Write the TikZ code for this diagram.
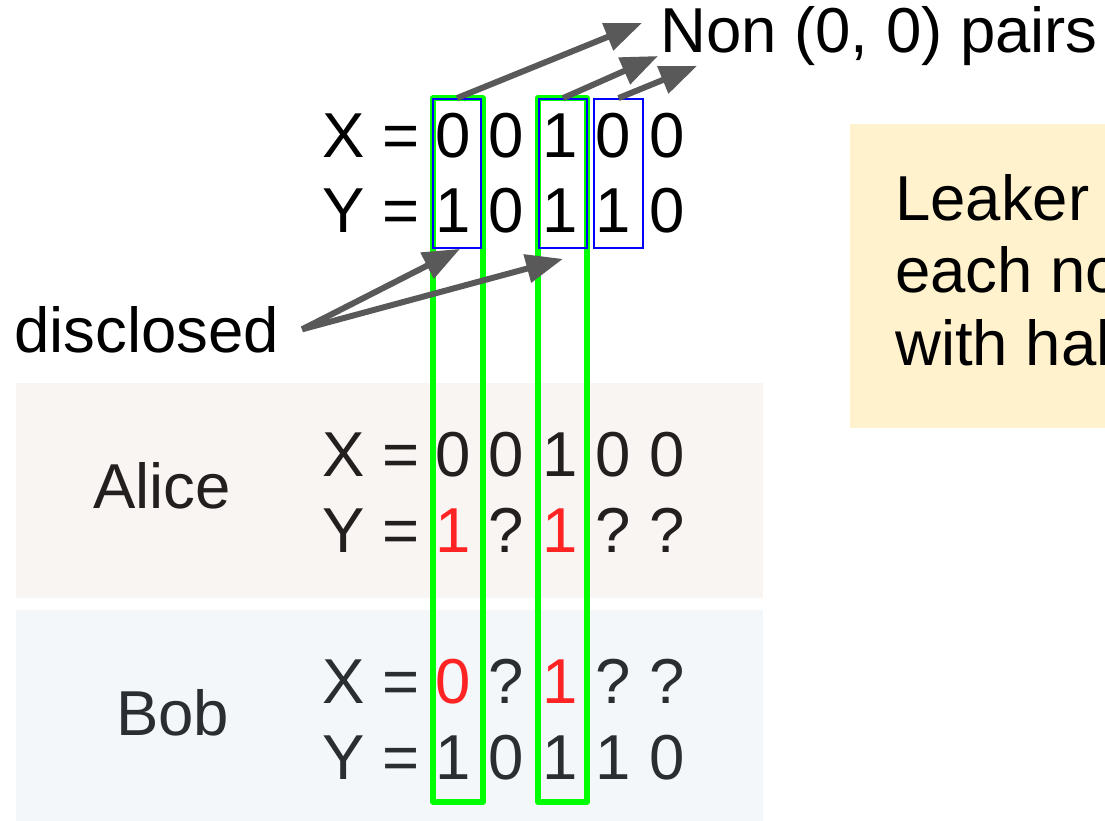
\documentclass[tikz,border=0pt]{standalone}
\usepackage{fontspec}
\setmainfont{Liberation Sans}
\usepackage{xcolor}
\usetikzlibrary{arrows.meta, positioning, calc}

\definecolor{arrowgray}{HTML}{595959}
\definecolor{alicebg}{HTML}{F9F5F2}
\definecolor{bobbg}{HTML}{F3F7FA}
\definecolor{notebg}{HTML}{FFF2CC}
\definecolor{pairgreen}{HTML}{00FF00}
\definecolor{aliceink}{HTML}{231F1F}
\definecolor{bobink}{HTML}{2A2E33}
\definecolor{hitred}{HTML}{FF2424}

\begin{document}
\begin{tikzpicture}[x=1pt, y=-1pt,
  txt/.style={font=\fontsize{63.5}{72}\selectfont, inner sep=0pt},
  bit/.style={txt, anchor=base},
  pairbox/.style={draw=blue, line width=1.8pt, minimum width=48.5pt,
                  minimum height=149pt, inner sep=0pt},
  colbox/.style={draw=pairgreen, line width=5.5pt, line join=round},
  pointer/.style={draw=arrowgray, line width=6pt,
                  -{Triangle[length=37pt, width=28pt]}}]
  % page is 1105 x 821, y grows downwards
  \useasboundingbox (0,0) rectangle (1105,821);
  \clip (0,0) rectangle (1105,821);

  % backgrounds
  \fill[alicebg] (16,383) rectangle (763,598);
  \fill[bobbg] (16,610) rectangle (763,821);
  \fill[notebg] (850,124) rectangle (1120,428);

  % columns that run through all three tables
  \draw[colbox] (433,98) rectangle (483,802);
  \draw[colbox] (538,98) rectangle (587,802);

  % non (0,0) pairs
  \node[pairbox] (p1) at (457,173.5) {};
  \node[pairbox] (p2) at (563,173.5) {};
  \node[pairbox] (p3) at (618.5,173.5) {};

  % full strings
  \node[txt, anchor=base west] (tX) at (322,158) {X =};
  \node[txt, anchor=base west] (tY) at (322,233) {Y =};
  \foreach \b [count=\i] in {0,0,1,0,0}
    \node[bit] (tx\i) at ({453+53.5*(\i-1)},158) {\b};
  \foreach \b [count=\i] in {1,0,1,1,0}
    \node[bit] (ty\i) at ({453+53.5*(\i-1)},233) {\b};

  % Alice's view
  \node[txt, text=aliceink, anchor=base west] (alice) at (93,508) {Alice};
  \node[txt, text=aliceink, anchor=base west] (aX) at (322,476) {X =};
  \node[txt, text=aliceink, anchor=base west] (aY) at (322,552) {Y =};
  \foreach \b [count=\i] in {0,0,1,0,0}
    \node[bit, text=aliceink] (ax\i) at ({453+53.5*(\i-1)},476) {\b};
  \foreach \b [count=\i] in {{\textcolor{hitred}{1}},?,{\textcolor{hitred}{1}},?,?}
    \node[bit, text=aliceink] (ay\i) at ({453+53.5*(\i-1)},552) {\b};

  % Bob's view
  \node[txt, text=bobink, anchor=base west] (bob) at (116,735) {Bob};
  \node[txt, text=bobink, anchor=base west] (bX) at (322,703) {X =};
  \node[txt, text=bobink, anchor=base west] (bY) at (322,779) {Y =};
  \foreach \b [count=\i] in {{\textcolor{hitred}{0}},?,{\textcolor{hitred}{1}},?,?}
    \node[bit, text=bobink] (bx\i) at ({453+53.5*(\i-1)},703) {\b};
  \foreach \b [count=\i] in {1,0,1,1,0}
    \node[bit, text=bobink] (by\i) at ({453+53.5*(\i-1)},779) {\b};

  % labels
  \node[txt, anchor=base west] (non) at (660,53) {Non (0, 0) pairs};
  \node[txt, anchor=base west] (disc) at (14,352) {disclosed};
  \node[txt, anchor=base west] (leak1) at (895,220) {Leaker};
  \node[txt, anchor=base west] (leak2) at (895,292) {each no};
  \node[txt, anchor=base west] (leak3) at (895,365) {with hal};

  % arrows
  \coordinate (n1) at (642,23);
  \coordinate (n2) at (658,56);
  \coordinate (n3) at (697,66);
  \draw[pointer] (p1.north) -- (n1);
  \draw[pointer] (p2.north) -- (n2);
  \draw[pointer] (p3.north) -- (n3);
  \coordinate (d0) at ([xshift=23pt]disc.east);
  \draw[pointer] (d0) -- ([xshift=3pt]p1.south);
  \draw[pointer] (d0) -- ([yshift=-10pt]p2.south);
\end{tikzpicture}
\end{document}
